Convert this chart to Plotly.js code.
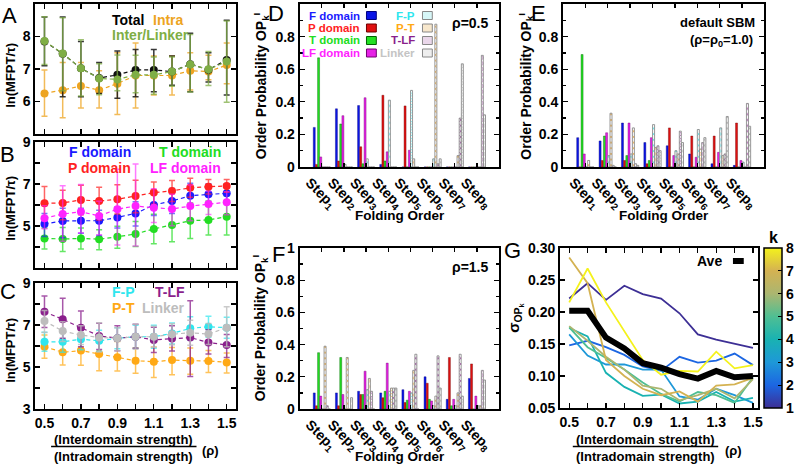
<!DOCTYPE html>
<html><head><meta charset="utf-8">
<script src="https://cdn.plot.ly/plotly-3.0.1.min.js"></script>
<style>html,body{margin:0;padding:0;background:#fff}#plot{width:800px;height:464px}</style>
</head><body><div id="plot"></div>
<script>
// ---------------- DATA ----------------
const rho = [0.5,0.6,0.7,0.8,0.9,1.0,1.1,1.2,1.3,1.4,1.5];
const rhoMajor = [0.5,0.7,0.9,1.1,1.3,1.5];
const rhoMajorLabels = ['0.5','0.7','0.9','1.1','1.3','1.5'];
const rhoMinor = [0.6,0.8,1.0,1.2,1.4];

// Panel A  ln(MFPT/tau)
const aTotal   = [7.85,7.47,7.02,6.72,6.82,6.97,6.97,6.92,7.15,6.98,7.28];
const aTotalUp = [0.75,1.13,0.83,0.48,0.73,0.63,0.63,0.48,0.95,0.52,1.22];
const aTotalDn = [0.75,1.32,0.87,0.47,0.72,0.82,0.67,0.42,0.85,0.38,1.08];
const aIntra   = [6.25,6.35,6.48,6.35,6.55,6.80,6.80,6.80,6.95,6.92,7.12];
const aIntraUp = [0.72,0.85,0.72,0.60,0.95,1.00,0.60,0.60,0.55,0.50,0.68];
const aIntraDn = [0.70,0.85,0.68,0.55,0.95,1.00,0.60,0.60,0.60,0.25,0.57];
const aInter   = [7.86,7.48,7.02,6.71,6.68,6.82,6.82,6.92,7.14,6.99,7.23];
const aInterUp = [0.75,1.10,0.88,0.45,0.75,0.60,0.55,0.45,0.92,0.55,1.25];
const aInterDn = [0.72,1.15,0.85,0.50,0.35,0.55,0.60,0.45,0.85,0.50,1.25];

// Panel B
const bF   = [5.10,5.24,5.25,5.25,5.41,5.60,6.00,6.19,6.44,6.51,6.56];
const bFUp = [0.50,0.60,0.60,0.50,0.50,0.55,0.70,0.60,0.60,0.50,0.45];
const bFDn = [0.60,0.80,0.60,0.70,0.50,0.60,0.50,0.60,0.50,0.50,0.45];
const bP   = [6.08,6.10,6.24,6.19,6.27,6.43,6.59,6.67,6.82,6.87,6.91];
const bPUp = [0.80,0.60,0.70,0.65,0.70,0.75,0.50,0.50,0.45,0.35,0.30];
const bPDn = [0.70,0.80,0.70,0.90,0.70,0.80,0.55,0.50,0.45,0.35,0.30];
const bT   = [4.41,4.38,4.41,4.37,4.49,4.62,4.86,5.05,5.25,5.29,5.44];
const bTUp = [0.50,0.55,0.50,0.45,0.50,0.60,0.70,0.75,0.85,0.90,1.00];
const bTDn = [0.50,0.60,0.50,0.50,0.55,0.60,0.70,0.80,0.85,0.72,0.87];
const bLF   = [5.37,5.57,5.68,5.48,5.80,5.95,5.87,5.81,5.95,6.05,6.13];
const bLFUp = [0.60,1.35,1.30,0.70,1.90,2.00,0.90,0.70,1.00,0.60,0.50];
const bLFDn = [0.50,1.30,1.00,0.90,1.70,1.90,0.70,0.80,0.70,0.50,0.60];

// Panel C
const cFP   = [6.20,6.20,6.32,6.25,6.37,6.44,6.44,6.60,6.84,6.92,6.87];
const cFPUp = [0.45,0.50,0.50,0.50,0.50,0.55,0.55,0.50,0.55,0.50,0.50];
const cFPDn = [0.45,0.50,0.50,0.50,0.50,0.55,0.55,0.50,0.55,0.50,0.50];
const cPT   = [5.97,5.70,5.78,5.62,5.46,5.30,5.25,5.33,5.30,5.29,5.22];
const cPTUp = [0.55,0.60,0.70,0.85,0.75,0.60,0.70,0.60,0.60,0.50,0.45];
const cPTDn = [0.55,0.60,0.70,0.80,0.65,0.60,0.75,0.70,0.65,0.55,0.50];
const cTLF   = [7.63,7.27,6.87,6.48,6.37,6.44,6.29,6.36,6.40,6.17,6.05];
const cTLFUp = [0.75,1.00,0.80,0.60,0.60,0.60,0.60,0.60,1.75,0.60,0.50];
const cTLFDn = [0.75,0.90,0.90,0.65,0.60,0.55,0.60,0.60,1.85,0.55,0.60];
const cL   = [7.19,6.71,6.52,6.41,6.37,6.44,6.44,6.56,6.63,6.57,6.87];
const cLUp = [0.50,0.45,0.45,0.70,0.50,0.60,0.50,0.50,0.60,0.50,1.00];
const cLDn = [0.55,0.50,0.45,0.70,0.60,0.60,0.50,0.50,0.60,0.50,0.90];

// Panels D,E,F  order probability per step
const steps = [1,2,3,4,5,6,7,8];
const stepLabels = ['Step<sub>1</sub>','Step<sub>2</sub>','Step<sub>3</sub>','Step<sub>4</sub>','Step<sub>5</sub>','Step<sub>6</sub>','Step<sub>7</sub>','Step<sub>8</sub>'];
const elemNames = ['F domain','P domain','T domain','LF domain','F-P','P-T','T-LF','Linker'];

const dF   = [0.243,0.357,0.377,0.016,0,0,0,0];
const dP   = [0.016,0.037,0.124,0.440,0.375,0,0,0];
const dT   = [0.670,0.264,0.020,0.037,0,0,0,0];
const dLF  = [0.062,0.315,0.425,0.093,0.103,0,0,0];
const dFP  = [0,0.016,0.050,0.410,0.470,0.050,0,0];
const dPT  = [0,0,0,0,0.050,0.876,0.070,0];
const dTLF = [0,0,0,0,0,0.020,0.300,0.685];
const dL   = [0,0,0,0,0,0.050,0.633,0.320];

const eF   = [0.18,0.16,0.27,0.15,0.13,0.08,0.02,0.01];
const eP   = [0,0.04,0.04,0.02,0.24,0.19,0.19,0.27];
const eT   = [0.69,0.19,0.07,0.04,0,0,0,0];
const eLF  = [0.08,0.21,0.27,0.18,0.07,0.06,0.09,0.04];
const eFP  = [0,0.07,0.08,0.26,0.10,0.23,0.24,0.03];
const ePT  = [0.04,0.33,0.24,0.12,0.08,0.11,0.07,0];
const eTLF = [0,0.01,0.02,0.13,0.22,0.15,0.08,0.39];
const eL   = [0,0,0.01,0.10,0.15,0.18,0.31,0.25];

const fF   = [0.10,0.10,0.11,0.10,0.12,0.20,0.06,0.19];
const fP   = [0.02,0.02,0.09,0.07,0.04,0.16,0.32,0.28];
const fT   = [0.35,0.32,0.09,0.11,0.055,0.06,0.02,0];
const fLF  = [0.08,0.09,0.235,0.285,0.11,0.05,0.06,0.08];
const fFP  = [0,0,0.12,0.11,0.10,0.02,0.02,0.02];
const fPT  = [0.39,0.32,0.19,0.13,0.24,0.08,0.10,0.02];
const fTLF = [0.02,0,0.11,0.13,0.34,0.33,0.34,0.24];
const fL   = [0,0.07,0,0.13,0,0.13,0.08,0.18];

// Panel G  sigma(OP_k)
const gK1 = [0.221,0.245,0.219,0.241,0.228,0.221,0.198,0.165,0.157,0.151,0.144];
const gK2 = [0.148,0.155,0.145,0.133,0.115,0.108,0.130,0.121,0.124,0.135,0.117];
const gK3 = [0.165,0.132,0.118,0.118,0.110,0.110,0.068,0.063,0.080,0.070,0.058];
const gK4 = [0.175,0.162,0.105,0.083,0.069,0.071,0.057,0.060,0.075,0.060,0.066];
const gK5 = [0.176,0.145,0.128,0.110,0.090,0.072,0.060,0.075,0.070,0.058,0.098];
const gK6 = [0.178,0.155,0.130,0.110,0.085,0.080,0.062,0.070,0.080,0.065,0.095];
const gK7 = [0.285,0.245,0.125,0.100,0.080,0.070,0.076,0.060,0.085,0.087,0.097];
const gK8 = [0.215,0.268,0.215,0.170,0.125,0.102,0.108,0.107,0.138,0.112,0.117];
const gAve = [0.202,0.202,0.160,0.143,0.120,0.113,0.103,0.096,0.108,0.098,0.100];
const kVals = [1,2,3,4,5,6,7,8];

// ---------------- STYLE / GEOMETRY ----------------
const W = 800, H = 464;
const FONT = 'Liberation Sans, Arial, Helvetica, sans-serif';
const px = v => v / W, py = v => 1 - v / H;
const dX = (a, b) => [px(a), px(b)];
const dY = (top, bot) => [py(bot), py(top)];

const gColors = ['#3d2f95','#1c66e2','#1e98d8','#19b2b2','#4fbf93','#abb670','#d4b252','#f4f21c'];
const gScale = kVals.map((k, i) => [(k - 1) / 7, gColors[i]]);

function axis(domain, range, anchor, extra) {
  return Object.assign({
    domain, range, anchor, showline: true, linewidth: 2, linecolor: '#000',
    mirror: 'allticks', ticks: 'inside', ticklen: 5, tickwidth: 1.3, tickcolor: '#000',
    showgrid: false, zeroline: false, fixedrange: true,
    tickfont: {family: FONT, size: 14, color: '#000', weight: 'bold'}
  }, extra || {});
}
const minorTicks = vals => ({tickmode: 'array', tickvals: vals, ticks: 'inside', ticklen: 5, tickwidth: 1.3, tickcolor: '#000', showgrid: false});

function line(x, y, up, dn, color, errColor, xa, ya) {
  return {
    type: 'scatter', mode: 'lines+markers', x, y, xaxis: xa, yaxis: ya,
    line: {color, width: 1.2, dash: '4px,3px'},
    marker: {color, size: 8},
    error_y: {type: 'data', symmetric: false, array: up, arrayminus: dn,
              color: errColor, thickness: 1.5, width: 3},
    hoverinfo: 'skip'
  };
}

const traces = [];
// A
traces.push(line(rho, aIntra, aIntraUp, aIntraDn, '#eda421', 'rgba(237,164,33,0.75)', 'x', 'y'));
traces.push(line(rho, aTotal, aTotalUp, aTotalDn, '#111111', 'rgba(20,20,20,0.85)', 'x', 'y'));
traces.push(line(rho, aInter, aInterUp, aInterDn, '#7fae45', 'rgba(127,174,69,0.75)', 'x', 'y'));
// B
traces.push(line(rho, bT, bTUp, bTDn, '#22dd22', 'rgba(34,221,34,0.7)', 'x2', 'y2'));
traces.push(line(rho, bF, bFUp, bFDn, '#1a1aff', 'rgba(26,26,255,0.6)', 'x2', 'y2'));
traces.push(line(rho, bP, bPUp, bPDn, '#ff2222', 'rgba(255,34,34,0.7)', 'x2', 'y2'));
traces.push(line(rho, bLF, bLFUp, bLFDn, '#ff22ff', 'rgba(255,34,255,0.6)', 'x2', 'y2'));
// C
traces.push(line(rho, cPT, cPTUp, cPTDn, '#ffa915', 'rgba(255,169,21,0.7)', 'x3', 'y3'));
traces.push(line(rho, cFP, cFPUp, cFPDn, '#2ee6ee', 'rgba(46,230,238,0.7)', 'x3', 'y3'));
traces.push(line(rho, cTLF, cTLFUp, cTLFDn, '#8a1f8c', 'rgba(138,31,140,0.75)', 'x3', 'y3'));
traces.push(line(rho, cL, cLUp, cLDn, '#bdbdbd', 'rgba(189,189,189,0.8)', 'x3', 'y3'));

// Bars
const solidCols = ['#0a14e6','#e01010','#22e022','#e622e6'];
const solidEdge = ['#000080','#700000','#006000','#700070'];
const hatchCols = ['#2ee6ee','#f0a020','#8a1f8c','#aaaaaa'];
function barSet(vals, xa, ya) {
  vals.forEach((v, i) => {
    const t = {type: 'bar', x: steps, y: v, xaxis: xa, yaxis: ya, hoverinfo: 'skip', name: elemNames[i]};
    if (i < 4) {
      t.marker = {color: solidCols[i], line: {color: solidEdge[i], width: 0.4}};
    } else {
      t.marker = {color: '#ffffff', line: {color: '#8c8c8c', width: 0.9},
        pattern: {shape: 'x', fgcolor: hatchCols[i - 4], bgcolor: '#ffffff', size: 4, solidity: 0.3}};
    }
    traces.push(t);
  });
}
barSet([dF, dP, dT, dLF, dFP, dPT, dTLF, dL], 'x4', 'y4');
barSet([eF, eP, eT, eLF, eFP, ePT, eTLF, eL], 'x5', 'y5');
barSet([fF, fP, fT, fLF, fFP, fPT, fTLF, fL], 'x6', 'y6');

// G
[gK1, gK2, gK3, gK4, gK5, gK6, gK7, gK8].forEach((g, i) => {
  traces.push({type: 'scatter', mode: 'lines', x: rho, y: g, xaxis: 'x7', yaxis: 'y7',
    line: {color: gColors[i], width: 1.8}, hoverinfo: 'skip'});
});
traces.push({type: 'scatter', mode: 'lines', x: rho, y: gAve, xaxis: 'x7', yaxis: 'y7',
  line: {color: '#000', width: 6}, hoverinfo: 'skip'});
// colorbar carrier (point lies outside the visible y range)
traces.push({type: 'scatter', mode: 'markers', x: [1.0], y: [0.0], xaxis: 'x7', yaxis: 'y7',
  hoverinfo: 'skip', cliponaxis: true,
  marker: {color: [1], cmin: 1, cmax: 8, colorscale: gScale, size: 1, opacity: 0, showscale: true,
    colorbar: {x: px(778), xanchor: 'left', y: py(408), yanchor: 'bottom', len: 160 / H, lenmode: 'fraction',
      thickness: 18, thicknessmode: 'pixels', xpad: 0, ypad: 0, outlinewidth: 1.5, outlinecolor: '#000',
      tickmode: 'array', tickvals: kVals, ticks: 'inside', ticklen: 4, tickcolor: '#000',
      tickfont: {family: FONT, size: 14, color: '#000', weight: 'bold'}}}});

// ---------------- LAYOUT ----------------
const rhoAxis = (dom, anchor, labels, range) => axis(dom, range || [0.45, 1.55], anchor,
  {tickmode: 'array', tickvals: rhoMajor, ticktext: rhoMajorLabels, showticklabels: labels, minor: minorTicks(rhoMinor)});
const stepAxis = (dom, anchor) => axis(dom, [0, 9], anchor,
  {tickmode: 'array', tickvals: steps, ticktext: stepLabels, tickangle: 45, ticklabelshift: -12, ticklen: 4});
const opAxis = (dom, anchor) => axis(dom, [0, 1], anchor,
  {dtick: 0.2, minor: {dtick: 0.1, ticks: 'inside', ticklen: 3, tickcolor: '#000'}});

const layout = {
  width: W, height: H, margin: {l: 0, r: 0, t: 0, b: 0},
  paper_bgcolor: '#fff', plot_bgcolor: '#fff', showlegend: false,
  barmode: 'group', bargap: 0.22, bargroupgap: 0.08,
  font: {family: FONT, size: 14, color: '#000', weight: 'bold'},
  xaxis:  rhoAxis(dX(36, 240), 'y', false),
  yaxis:  axis(dY(4, 134), [5, 9], 'x', {tickmode: 'array', tickvals: [6, 7, 8, 9], ticktext: ['6', '7', '8', '9']}),
  xaxis2: rhoAxis(dX(36, 240), 'y2', false),
  yaxis2: axis(dY(142, 268), [3, 9], 'x2', {tickmode: 'array', tickvals: [5, 7, 9], ticktext: ['5', '7', '9'],
           minor: minorTicks([4, 6, 8])}),
  xaxis3: rhoAxis(dX(36, 240), 'y3', true),
  yaxis3: axis(dY(283, 409), [3, 9], 'x3', {tickmode: 'array', tickvals: [3, 5, 7, 9], ticktext: ['3', '5', '7', '9'],
           minor: minorTicks([4, 6, 8])}),
  xaxis4: stepAxis(dX(305, 508), 'y4'),
  yaxis4: opAxis(dY(4, 167), 'x4'),
  xaxis5: stepAxis(dX(573, 778), 'y5'),
  yaxis5: opAxis(dY(4, 167), 'x5'),
  xaxis6: stepAxis(dX(305, 508), 'y6'),
  yaxis6: opAxis(dY(248, 409), 'x6'),
  xaxis7: rhoAxis(dX(570, 772), 'y7', true, [0.45, 1.53]),
  yaxis7: axis(dY(248, 408), [0.05, 0.30], 'x7', {dtick: 0.05, tickformat: '.2f'}),
  annotations: [], shapes: []
};

const ann = layout.annotations, shp = layout.shapes;
function T(text, x, y, opt) {
  opt = opt || {};
  ann.push({text, x: px(x), y: py(y), xref: 'paper', yref: 'paper', showarrow: false,
    xanchor: opt.xa || 'center', yanchor: opt.ya || 'middle', textangle: opt.angle || 0,
    font: {family: FONT, size: opt.size || 13, color: opt.color || '#000', weight: opt.weight || 'bold'}});
}
function R(x0, y0, x1, y1, fill, lineCol) {
  shp.push({type: 'rect', xref: 'paper', yref: 'paper', x0: px(x0), x1: px(x1), y0: py(y1), y1: py(y0),
    fillcolor: fill, line: {color: lineCol, width: 1}});
}
function L(x0, y0, x1, y1, w) {
  shp.push({type: 'line', xref: 'paper', yref: 'paper', x0: px(x0), x1: px(x1), y0: py(y0), y1: py(y1),
    line: {color: '#000', width: w}});
}

// panel letters
[['A', 10, 15], ['B', 8, 154], ['C', 8, 291], ['D', 281, 14], ['E', 548, 14], ['F', 283, 255], ['G', 522, 250]]
  .forEach(a => T(a[0], a[1], a[2], {size: 22, weight: 'normal'}));

// y titles
[75, 208, 350].forEach(y => T('ln(MFPT/τ)', 10, y, {angle: -90, size: 13}));
T('Order Probability OP<sub>k</sub><sup>I</sup>', 266, 86, {angle: -90, size: 14});
T('Order Probability OP<sub>k</sub><sup>I</sup>', 535, 86, {angle: -90, size: 14});
T('Order Probability OP<sub>k</sub><sup>I</sup>', 265, 328, {angle: -90, size: 14});
T('σ<sub>OP<sub>k</sub></sub>', 524, 318, {angle: -90, size: 15});

// x titles
T('Folding Order', 407, 215, {size: 13.5});
T('Folding Order', 676, 215, {size: 13.5});
T('Folding Order', 407, 456, {size: 13.5});
function frac(cx, x0, x1, pr) {
  T('(Interdomain strength)', cx, 439, {size: 13});
  L(x0, 446.5, x1, 446.5, 1.5);
  T('(Intradomain strength)', cx, 456, {size: 13});
  T('(ρ)', pr, 450, {size: 13, xa: 'left'});
}
frac(126, 52, 200, 204);
frac(657, 583, 731, 736);

// A legend
T('Total', 112, 20, {xa: 'left', color: '#000', size: 14});
T('Intra', 189, 20, {xa: 'right', color: '#eda421', size: 14});
T('Inter/Linker', 112, 35, {xa: 'left', color: '#7fae45', size: 14});
// B legend
T('F domain', 135, 152, {xa: 'right', color: '#1a1aff', size: 14});
T('P domain', 135, 168, {xa: 'right', color: '#ff2222', size: 14});
T('T domain', 227, 152, {xa: 'right', color: '#22dd22', size: 14});
T('LF domain', 227, 168, {xa: 'right', color: '#ff22ff', size: 14});
// C legend
T('F-P', 112, 292, {xa: 'left', color: '#2ee6ee', size: 14});
T('P-T', 112, 308, {xa: 'left', color: '#ffa915', size: 14});
T('T-LF', 190, 292, {xa: 'right', color: '#8a1f8c', size: 14});
T('Linker', 190, 308, {xa: 'right', color: '#bdbdbd', size: 14});

// D legend
const legRows = [15.5, 28, 40.5, 53];
const legTextCol = ['#1a1aff', '#ff2222', '#22dd22', '#ff22ff'];
const hatchText = ['#2ee6ee', '#ffa915', '#8a1f8c', '#c4c4c4'];
const hatchFill = ['#d6f6f7', '#f7e7cc', '#ead7ea', '#eeeeee'];
legRows.forEach((y, i) => {
  T(elemNames[i], 368, y, {xa: 'right', color: legTextCol[i], size: 11.5});
  R(373, y - 4, 383, y + 4, solidCols[i], solidEdge[i]);
  T(elemNames[i + 4], 424, y, {xa: 'right', color: hatchText[i], size: 11.5});
  R(430, y - 4, 440, y + 4, hatchFill[i], '#888888');
});
T('ρ=0.5', 500, 23, {xa: 'right', size: 14});
T('ρ=1.5', 500, 267, {xa: 'right', size: 14});
T('default SBM', 770, 22, {xa: 'right', size: 13});
T('(ρ=ρ<sub>0</sub>=1.0)', 768, 40, {xa: 'right', size: 13});

// G legend & colorbar title
T('Ave', 737, 261, {xa: 'right', size: 14});
L(746, 261, 757, 261, 6);
T('k', 787, 237, {size: 16});

Plotly.newPlot('plot', traces, layout, {staticPlot: true, displayModeBar: false});
</script></body></html>
